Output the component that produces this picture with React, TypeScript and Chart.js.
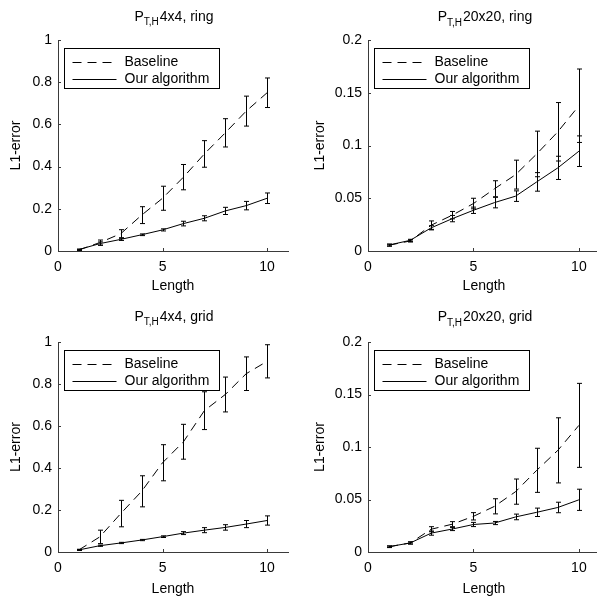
import React, { useEffect, useRef } from "react";
import { Chart, registerables } from "chart.js";

Chart.register(...registerables);

// ---------- data ----------
const lengths = [1, 2, 3, 4, 5, 6, 7, 8, 9, 10];
const xTicks = [0, 5, 10];
const yTicksUnit = [0, 0.2, 0.4, 0.6, 0.8, 1];
const yTicksSmall = [0, 0.05, 0.1, 0.15, 0.2];

const ring4Base = [0.005, 0.04, 0.082, 0.17, 0.25, 0.35, 0.46, 0.56, 0.663, 0.75];
const ring4BaseErr = [0.003, 0.012, 0.019, 0.04, 0.057, 0.06, 0.063, 0.067, 0.071, 0.07];
const ring4Ours = [0.007, 0.035, 0.055, 0.077, 0.1, 0.13, 0.155, 0.19, 0.215, 0.25];
const ring4OursErr = [0.002, 0.008, 0.005, 0.004, 0.005, 0.011, 0.012, 0.017, 0.02, 0.025];

const ring20Base = [0.0055, 0.0095, 0.0245, 0.034, 0.045, 0.059, 0.0724, 0.092, 0.113, 0.1377];
const ring20BaseErr = [0.001, 0.001, 0.004, 0.0035, 0.005, 0.0076, 0.0137, 0.0216, 0.0277, 0.0348];
const ring20Ours = [0.0057, 0.0101, 0.022, 0.0307, 0.0386, 0.0459, 0.052, 0.0655, 0.0788, 0.0946];
const ring20OursErr = [0.0008, 0.001, 0.002, 0.003, 0.003, 0.005, 0.005, 0.0088, 0.011, 0.0145];

const grid4Base = [0.01, 0.072, 0.183, 0.289, 0.425, 0.525, 0.673, 0.75, 0.849, 0.908];
const grid4BaseErr = [0.003, 0.032, 0.063, 0.074, 0.086, 0.083, 0.09, 0.083, 0.08, 0.079];
const grid4Ours = [0.01, 0.03, 0.043, 0.057, 0.073, 0.09, 0.104, 0.117, 0.133, 0.15];
const grid4OursErr = [0.002, 0.003, 0.003, 0.003, 0.004, 0.007, 0.012, 0.013, 0.017, 0.022];

const grid20Base = [0.005, 0.0086, 0.0217, 0.0265, 0.034, 0.0435, 0.0575, 0.0778, 0.0968, 0.1206];
const grid20BaseErr = [0.0008, 0.001, 0.0024, 0.0024, 0.0035, 0.0072, 0.012, 0.021, 0.031, 0.04];
const grid20Ours = [0.0051, 0.0086, 0.018, 0.0219, 0.0262, 0.0276, 0.0334, 0.0378, 0.0424, 0.0497];
const grid20OursErr = [0.0006, 0.001, 0.002, 0.0015, 0.002, 0.0015, 0.0027, 0.004, 0.005, 0.0101];

const seriesLabels = ["Baseline", "Our algorithm"];
const xTitle = "Length";
const yTitle = "L1-error";
const titleMain = "P";
const titleSub = "T,H";

// ---------- styling ----------
const FONT = "'Liberation Sans', Arial, Helvetica, sans-serif";
const AXIS_COLOR = "#3a3a3a";

type PanelCfg = {
  tail: string;
  base: number[];
  baseErr: number[];
  ours: number[];
  oursErr: number[];
  yMax: number;
  yTicks: number[];
  left: number;
  top: number;
  w: number;
  h: number;
  padTop: number;
  padRight: number;
  yAxisW: number;
  xAxisH: number;
  yTitlePad: number;
  xTitlePad: number;
  titleY: number;
};

const panels: PanelCfg[] = [
  {
    tail: "4x4, ring", base: ring4Base, baseErr: ring4BaseErr, ours: ring4Ours, oursErr: ring4OursErr,
    yMax: 1, yTicks: yTicksUnit,
    left: 0, top: 0, w: 297, h: 297, padTop: 40, padRight: 9, yAxisW: 58, xAxisH: 46,
    yTitlePad: 8, xTitlePad: 2, titleY: 20.5,
  },
  {
    tail: "20x20, ring", base: ring20Base, baseErr: ring20BaseErr, ours: ring20Ours, oursErr: ring20OursErr,
    yMax: 0.2, yTicks: yTicksSmall,
    left: 297, top: 0, w: 304, h: 297, padTop: 40, padRight: 1, yAxisW: 71, xAxisH: 46,
    yTitlePad: 15, xTitlePad: 2, titleY: 21,
  },
  {
    tail: "4x4, grid", base: grid4Base, baseErr: grid4BaseErr, ours: grid4Ours, oursErr: grid4OursErr,
    yMax: 1, yTicks: yTicksUnit,
    left: 0, top: 297, w: 297, h: 300, padTop: 45, padRight: 9, yAxisW: 58, xAxisH: 45,
    yTitlePad: 8, xTitlePad: -1, titleY: 23.5,
  },
  {
    tail: "20x20, grid", base: grid20Base, baseErr: grid20BaseErr, ours: grid20Ours, oursErr: grid20OursErr,
    yMax: 0.2, yTicks: yTicksSmall,
    left: 297, top: 297, w: 304, h: 300, padTop: 45, padRight: 1, yAxisW: 71, xAxisH: 45,
    yTitlePad: 15, xTitlePad: -1, titleY: 24,
  },
];

function Panel({ cfg }: { cfg: PanelCfg }) {
  const ref = useRef<HTMLCanvasElement>(null);

  useEffect(() => {
    const font = { family: FONT, size: 14 };

    const errorBars = {
      id: "errorBars",
      afterDatasetsDraw(chart: any) {
        const ctx = chart.ctx;
        const xs = chart.scales.x;
        const ys = chart.scales.y;
        ctx.save();
        ctx.strokeStyle = "#000";
        ctx.lineWidth = 1;
        ctx.setLineDash([]);
        chart.data.datasets.forEach((ds: any) => {
          const errs: number[] = ds.errors;
          ds.data.forEach((p: any, i: number) => {
            const px = Math.round(xs.getPixelForValue(p.x)) + 0.5;
            const y1 = ys.getPixelForValue(p.y - errs[i]);
            const y2 = ys.getPixelForValue(p.y + errs[i]);
            ctx.beginPath();
            ctx.moveTo(px, y1);
            ctx.lineTo(px, y2);
            ctx.moveTo(px - 2.5, y1);
            ctx.lineTo(px + 2.5, y1);
            ctx.moveTo(px - 2.5, y2);
            ctx.lineTo(px + 2.5, y2);
            ctx.stroke();
          });
        });
        ctx.restore();
      },
    };

    const inwardTicks = {
      id: "inwardTicks",
      afterDatasetsDraw(chart: any) {
        const ctx = chart.ctx;
        const { left, bottom } = chart.chartArea;
        ctx.save();
        ctx.strokeStyle = AXIS_COLOR;
        ctx.lineWidth = 1;
        chart.scales.x.ticks.forEach((t: any) => {
          const px = Math.round(chart.scales.x.getPixelForValue(t.value)) + 0.5;
          ctx.beginPath();
          ctx.moveTo(px, bottom);
          ctx.lineTo(px, bottom - 3);
          ctx.stroke();
        });
        chart.scales.y.ticks.forEach((t: any) => {
          const py = Math.round(chart.scales.y.getPixelForValue(t.value)) + 0.5;
          ctx.beginPath();
          ctx.moveTo(left, py);
          ctx.lineTo(left + 3, py);
          ctx.stroke();
        });
        ctx.restore();
      },
    };

    const boxLegend = {
      id: "boxLegend",
      afterDraw(chart: any) {
        const ctx = chart.ctx;
        const { left, top } = chart.chartArea;
        const bx = Math.round(left + 5.5) + 0.5;
        const by = Math.round(top + 7.5) + 0.5;
        ctx.save();
        ctx.font = `14px ${FONT}`;
        const tw = Math.max(...seriesLabels.map((s) => ctx.measureText(s).width));
        const bw = Math.round(60 + tw + 10);
        const bh = 40;
        ctx.fillStyle = "#fff";
        ctx.fillRect(bx, by, bw, bh);
        ctx.strokeStyle = "#000";
        ctx.lineWidth = 1;
        ctx.strokeRect(bx, by, bw, bh);
        const rows = [13.5, 30.5];
        chart.data.datasets.forEach((ds: any, i: number) => {
          const ly = Math.round(by + rows[i]) + 0.5;
          ctx.beginPath();
          ctx.setLineDash(ds.borderDash || []);
          ctx.strokeStyle = "#000";
          ctx.moveTo(bx + 8, ly);
          ctx.lineTo(bx + 52, ly);
          ctx.stroke();
          ctx.setLineDash([]);
          ctx.fillStyle = "#000";
          ctx.textBaseline = "middle";
          ctx.textAlign = "left";
          ctx.fillText(ds.label, bx + 60, ly);
        });
        ctx.restore();
      },
    };

    const subTitle = {
      id: "subTitle",
      afterDraw(chart: any) {
        const ctx = chart.ctx;
        const { left, right } = chart.chartArea;
        ctx.save();
        ctx.fillStyle = "#000";
        ctx.textBaseline = "alphabetic";
        ctx.textAlign = "left";
        const big = `14px ${FONT}`;
        const small = `10px ${FONT}`;
        ctx.font = big;
        const w1 = ctx.measureText(titleMain).width;
        const w3 = ctx.measureText(cfg.tail).width;
        ctx.font = small;
        const w2 = ctx.measureText(titleSub).width;
        const gap = 1;
        const total = w1 + w2 + gap + w3;
        let x = (left + right) / 2 - total / 2 + 1;
        const y = cfg.titleY;
        ctx.font = big;
        ctx.fillText(titleMain, x, y);
        x += w1;
        ctx.font = small;
        ctx.fillText(titleSub, x, y + 4.5);
        x += w2 + gap;
        ctx.font = big;
        ctx.fillText(cfg.tail, x, y);
        ctx.restore();
      },
    };

    const chart = new Chart(ref.current as HTMLCanvasElement, {
      type: "line",
      data: {
        datasets: [
          {
            label: seriesLabels[0],
            data: lengths.map((x, i) => ({ x, y: cfg.base[i] })),
            borderColor: "#000",
            borderWidth: 1,
            borderDash: [9, 6],
            pointRadius: 0,
            fill: false,
            tension: 0,
            errors: cfg.baseErr,
          } as any,
          {
            label: seriesLabels[1],
            data: lengths.map((x, i) => ({ x, y: cfg.ours[i] })),
            borderColor: "#000",
            borderWidth: 1,
            borderDash: [],
            pointRadius: 0,
            fill: false,
            tension: 0,
            errors: cfg.oursErr,
          } as any,
        ],
      },
      options: {
        responsive: false,
        animation: false,
        devicePixelRatio: 1,
        layout: { padding: { top: cfg.padTop, right: cfg.padRight, left: 0, bottom: 0 } },
        plugins: { legend: { display: false }, tooltip: { enabled: false }, title: { display: false } },
        scales: {
          x: {
            type: "linear",
            min: 0,
            max: 11,
            afterBuildTicks: (s: any) => {
              s.ticks = xTicks.map((v) => ({ value: v }));
            },
            afterFit: (s: any) => {
              s.height = cfg.xAxisH;
            },
            grid: { display: false, drawTicks: false },
            border: { display: true, color: AXIS_COLOR, width: 1 },
            ticks: {
              color: "#000",
              font,
              padding: 8,
              maxRotation: 0,
              autoSkip: false,
              callback: (v: any) => String(v),
            },
            title: {
              display: true,
              text: xTitle,
              color: "#000",
              font,
              padding: { top: 0, bottom: cfg.xTitlePad },
            },
          },
          y: {
            type: "linear",
            min: 0,
            max: cfg.yMax,
            afterBuildTicks: (s: any) => {
              s.ticks = cfg.yTicks.map((v) => ({ value: v }));
            },
            afterFit: (s: any) => {
              s.width = cfg.yAxisW;
            },
            grid: { display: false, drawTicks: false },
            border: { display: true, color: AXIS_COLOR, width: 1 },
            ticks: {
              color: "#000",
              font,
              padding: 6,
              autoSkip: false,
              callback: (v: any) => String(v),
            },
            title: {
              display: true,
              text: yTitle,
              color: "#000",
              font,
              padding: { top: cfg.yTitlePad, bottom: 0 },
            },
          },
        },
      } as any,
      plugins: [errorBars, inwardTicks, boxLegend, subTitle],
    });
    return () => chart.destroy();
  }, [cfg]);

  return (
    <canvas
      ref={ref}
      width={cfg.w}
      height={cfg.h}
      style={{ position: "absolute", left: cfg.left, top: cfg.top, width: cfg.w, height: cfg.h }}
    />
  );
}

export default function App() {
  return (
    <div
      style={{
        position: "fixed",
        left: 0,
        top: 0,
        width: 597,
        height: 597,
        overflow: "hidden",
        background: "#fff",
      }}
    >
      {panels.map((p, i) => (
        <Panel key={i} cfg={p} />
      ))}
    </div>
  );
}
